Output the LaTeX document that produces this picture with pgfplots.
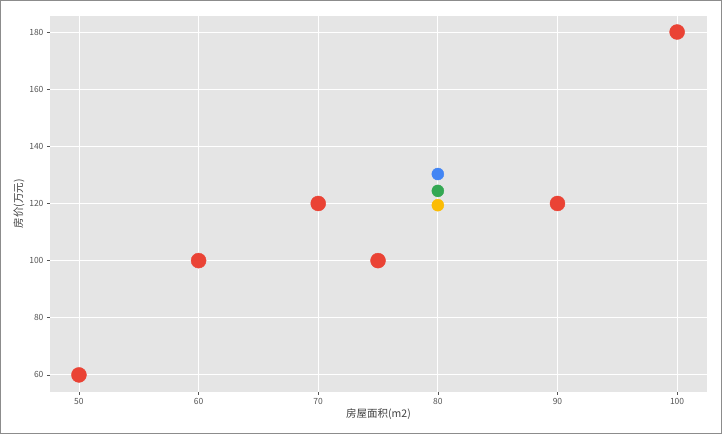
\documentclass[border=0pt]{standalone}
\usepackage{pgfplots}
\pgfplotsset{compat=1.18}
\usepackage{fontspec}
\setmainfont{Noto Sans CJK SC}
\definecolor{bgg}{HTML}{E5E5E5}
\definecolor{gred}{HTML}{EA4335}
\definecolor{gblue}{HTML}{4285F4}
\definecolor{ggreen}{HTML}{34A853}
\definecolor{gyellow}{HTML}{FBBC05}
\definecolor{tickc}{HTML}{555555}
\begin{document}
\begin{tikzpicture}[x=1pt,y=1pt]
\draw[gray!90,line width=1pt] (-49.5,-42) rectangle (671.5,391);
\begin{axis}[
  at={(0,0)}, anchor=south west,
  scale only axis, width=657pt, height=375.5pt,
  xmin=47.58, xmax=102.5, ymin=54.2, ymax=185.6,
  axis background/.style={fill=bgg},
  axis line style={draw=none},
  grid=major, major grid style={white, line width=0.9pt},
  xtick={50,60,...,100}, ytick={60,80,...,180},
  xtick pos=bottom, ytick pos=left,
  tick style={tickc, line width=0.6pt},
  tick align=outside, major tick length=3pt,
  ticklabel style={font=\fontsize{8.5pt}{9pt}\selectfont, text=tickc},
  /pgf/number format/assume math mode=true,
  xlabel={房屋面积(m2)}, ylabel={房价(万元)},
  label style={font=\fontsize{10.5pt}{11pt}\selectfont, text=black!75},
  xlabel style={yshift=3pt},
  ylabel style={yshift=-2pt},
  clip=false,
]
\addplot[only marks, mark=*, mark size=7.5pt, color=gred, mark options={draw=gred, fill=gred}]
  coordinates {(50,60) (60,100) (70,120) (75,100) (90,120) (100,180)};
\addplot[only marks, mark=*, mark size=6pt, mark options={draw=gblue, fill=gblue}]
  coordinates {(80,130.3)};
\addplot[only marks, mark=*, mark size=6pt, mark options={draw=ggreen, fill=ggreen}]
  coordinates {(80,124.4)};
\addplot[only marks, mark=*, mark size=6pt, mark options={draw=gyellow, fill=gyellow}]
  coordinates {(80,119.4)};
\end{axis}
\end{tikzpicture}
\end{document}
